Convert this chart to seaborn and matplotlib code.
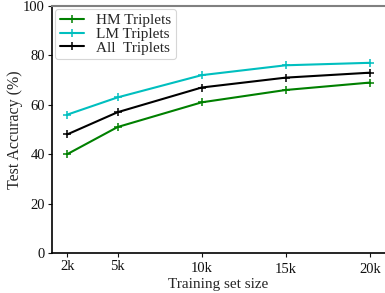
import matplotlib
matplotlib.use("Agg")
import matplotlib.pyplot as plt
import matplotlib.transforms as mtransforms
import seaborn as sns
import pandas as pd

sizes = [2, 5, 10, 15, 20]
size_labels = ["2k", "5k", "10k", "15k", "20k"]
hm = [40, 51, 61, 66, 69]
lm = [56, 63, 72, 76, 77]
all_t = [48, 57, 67, 71, 73]
series_names = ["HM Triplets", "LM Triplets", "All  Triplets"]
colors = ["#008000", "#00bfbf", "#000000"]

df = pd.concat([
    pd.DataFrame({"size": sizes, "acc": vals, "series": name})
    for name, vals in zip(series_names, [hm, lm, all_t])
], ignore_index=True)

sns.set_style("ticks")
plt.rcParams['font.family'] = ['Liberation Serif', 'DejaVu Serif']
plt.rcParams['mathtext.fontset'] = 'stix'

fig = plt.figure(figsize=(3.85, 2.93), dpi=100)
ax = fig.add_axes([52/385, 1-253/293, 1-52/385, (253-6)/293])

sns.lineplot(data=df, x="size", y="acc", hue="series", hue_order=series_names,
             palette=colors, marker="+", markersize=6, markeredgewidth=1.1,
             linewidth=1.5, ax=ax, legend=False)
for line in ax.lines:
    line.set_markeredgecolor(line.get_color())
    line.set_markerfacecolor(line.get_color())

ax.set_xlim(1.1, 20.9)
ax.set_ylim(0, 100)
ax.set_xticks(sizes)
ax.set_xticklabels(size_labels)
ax.set_yticks([0, 20, 40, 60, 80, 100])
ax.tick_params(axis="both", labelsize=10.5, length=3, width=0.8, pad=2, colors="#111111")
ax.set_xlabel("Training set size", fontsize=11, labelpad=1.5)
ax.set_ylabel("Test Accuracy (%)", fontsize=11.5, labelpad=0)

# slight staggering of the x tick labels, as in the reference
for lab, dy in zip(ax.get_xticklabels(), [0, 0, 2, 3, 3]):
    lab.set_transform(lab.get_transform() +
                      mtransforms.ScaledTranslation(0, -dy/100, fig.dpi_scale_trans))

ax.spines["right"].set_visible(False)
ax.spines["top"].set_color("#808080")
ax.spines["top"].set_linewidth(1.5)
ax.spines["left"].set_color("black")
ax.spines["bottom"].set_color("black")
ax.spines["left"].set_linewidth(1.2)
ax.spines["bottom"].set_linewidth(1.2)

handles = ax.lines[:3]
leg = ax.legend(handles, series_names, loc="upper left", fontsize=11, frameon=True,
                handlelength=1.6, handletextpad=0.8, borderpad=0.3, labelspacing=0.0,
                borderaxespad=0.2, fancybox=True)
leg.get_frame().set_edgecolor("#cccccc")
leg.get_frame().set_linewidth(0.8)
for h in leg.legend_handles:
    h.set_markeredgecolor(h.get_color())
    h.set_markersize(6)

fig.savefig("out.png", dpi=100)
